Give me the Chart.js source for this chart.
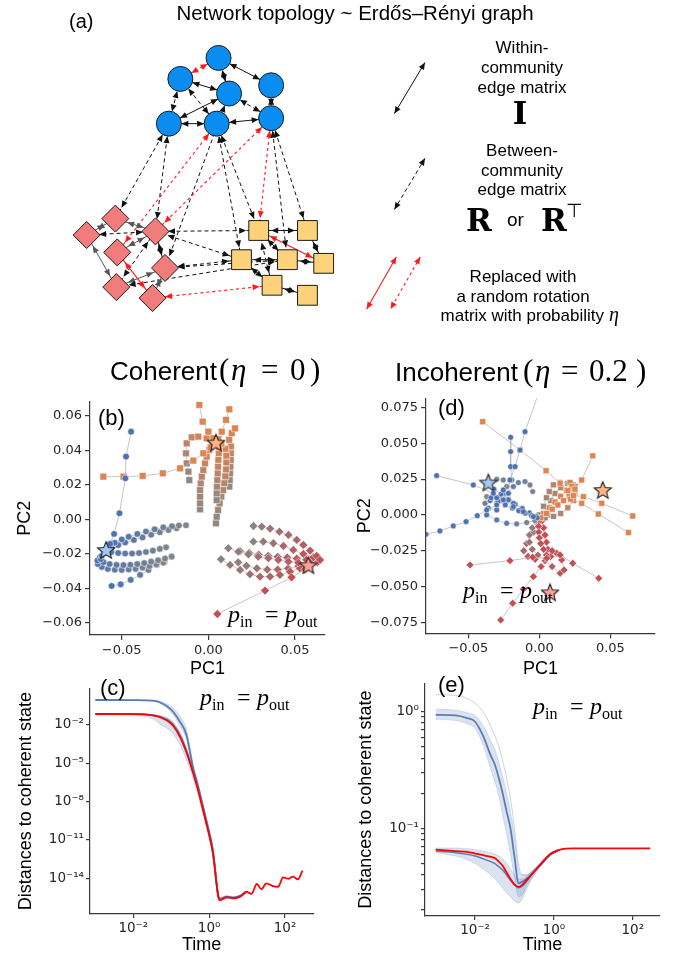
<!DOCTYPE html>
<html>
<head>
<meta charset="utf-8">
<script src="https://cdn.jsdelivr.net/npm/chart.js@4.4.0/dist/chart.umd.min.js"></script>
<style>
body{margin:0;background:#fff;width:677px;height:960px;position:relative;overflow:hidden}
canvas{position:absolute}
</style>
</head>
<body>
<canvas id="ca" width="677" height="345" style="left:0;top:0"></canvas>
<canvas id="cb" width="340" height="335" style="left:0;top:345px"></canvas>
<canvas id="cd" width="337" height="335" style="left:340px;top:345px"></canvas>
<canvas id="cc" width="340" height="285" style="left:0;top:675px"></canvas>
<canvas id="ce" width="337" height="285" style="left:340px;top:675px"></canvas>
<script>
// ---------- data: network (a) ----------
const blueNodes=[[213,47],[173,70],[268,77],[224,86],[161,119],[211,119],[268,113]];
const redNodes=[[105,223],[75,241],[147,237],[107,260],[157,277],[106,298],[144,310]];
const orangeNodes=[[255,236],[306,236],[237,268],[285,268],[323,272],[269,296],[306,307]];
// s solid black, d dashed black, rs red solid, rd red dashed, g grey solid
const edges=[
['b0','b1','rd'],['b0','b2','s'],['b0','b3','d'],['b1','b3','s'],['b1','b4','d'],['b1','b5','d'],['b3','b4','s'],['b3','b6','d'],['b2','b6','d'],['b4','b5','s'],['b5','b6','s'],
['b4','r0','d'],['b4','r2','d'],['b5','r3','rd'],['b6','r2','rd'],['b3','r4','d'],
['b5','o0','d'],['b5','o2','d'],['b6','o0','rd'],['b6','o1','d'],['b6','o3','d'],
['r0','r1','g'],['r0','r2','g'],['r2','r1','d'],['r1','r5','g'],['r2','r3','g'],['r2','r4','s'],['r3','r6','rs'],['r4','r5','g'],['r4','r6','g'],['r5','r2','d'],
['r2','o0','d'],['r2','o2','d'],['r4','o2','d'],['r4','o3','d'],['r6','o5','rd'],['r5','o3','d'],
['o0','o1','s'],['o0','o4','rs'],['o1','o4','s'],['o0','o3','s'],['o2','o3','s'],['o3','o4','s'],['o2','o5','s'],['o5','o6','s'],['o0','o5','d']
];
const legendArrows=[[[429,52],[397,108],'s'],[[429,157],[397,213],'d'],[[399,265],[368,322],'rs'],[[424,265],[393,322],'rd']];

// ---------- data: PCA trajectories (b) coherent ----------
const bBlueRays=[
[[-0.0446,0.0509],[-0.0475,0.0364],[-0.0479,0.0238],[-0.0513,0.0035],[-0.0544,-0.0085],[-0.0567,-0.0143]]
];
const bBlueArcs=[
[[-0.0129,-0.0035],[-0.017,-0.0036],[-0.021,-0.004],[-0.026,-0.0047],[-0.031,-0.0058],[-0.036,-0.0071],[-0.041,-0.0085],[-0.046,-0.0101],[-0.050,-0.0117],[-0.054,-0.0136],[-0.057,-0.0156]],
[[-0.0183,-0.0052],[-0.023,-0.0062],[-0.028,-0.0075],[-0.033,-0.009],[-0.038,-0.0105],[-0.043,-0.012],[-0.048,-0.0135],[-0.052,-0.015],[-0.056,-0.0165]],
[[-0.0244,-0.0163],[-0.028,-0.0172],[-0.032,-0.0182],[-0.036,-0.019],[-0.040,-0.0196],[-0.044,-0.0199],[-0.048,-0.0199],[-0.052,-0.0196],[-0.056,-0.019],[-0.0595,-0.0182]],
[[-0.0212,-0.0217],[-0.025,-0.0228],[-0.029,-0.0238],[-0.033,-0.0246],[-0.037,-0.0254],[-0.041,-0.026],[-0.045,-0.0264],[-0.049,-0.0266],[-0.053,-0.0265],[-0.057,-0.026],[-0.0605,-0.0249],[-0.062,-0.0232],[-0.0615,-0.0212],[-0.060,-0.0195]],
[[-0.026,-0.0252],[-0.030,-0.0262],[-0.034,-0.0272],[-0.038,-0.0281],[-0.042,-0.0288],[-0.046,-0.0292],[-0.050,-0.0294],[-0.054,-0.0293],[-0.058,-0.0288],[-0.0615,-0.0277],[-0.0638,-0.026],[-0.064,-0.024],[-0.0625,-0.022]],
[[-0.0212,-0.0217],[-0.0254,-0.0246],[-0.0298,-0.0265],[-0.0346,-0.0294],[-0.0394,-0.0323],[-0.0448,-0.0352],[-0.0506,-0.0378],[-0.0558,-0.0387]]
];
const bOrangeRays=[
[[-0.0606,0.0248],[-0.049,0.0248],[-0.0379,0.0252],[-0.0263,0.0267],[-0.0163,0.0296],[-0.0087,0.0341],[-0.0029,0.0383],[0.0013,0.0418]],
[[-0.0052,0.0664],[-0.0033,0.0567],[0,0.0509],[0.0029,0.047]],
[[0.0121,0.0639],[0.0102,0.0577],[0.0077,0.0509],[0.0058,0.0465]]
];
const bOrangeArcs=[
[[-0.011,0.0228],[-0.0115,0.0277],[-0.0125,0.0325],[-0.0129,0.0383],[-0.0125,0.0441],[-0.0096,0.0476],[-0.0058,0.048],[-0.001,0.047]],
[[-0.0048,0.0058],[-0.0048,0.0093],[-0.0048,0.0132],[-0.0048,0.017],[-0.0044,0.0209],[-0.0038,0.0248],[-0.0029,0.0286],[-0.0019,0.0325],[-0.001,0.0364],[0.0006,0.0403],[0.0025,0.0432]],
[[0.0048,0.0112],[0.0048,0.0151],[0.005,0.019],[0.0052,0.0228],[0.0054,0.0267],[0.0056,0.0306],[0.0058,0.0345],[0.006,0.0384],[0.006,0.042]],
[[0.0044,-0.0023],[0.0048,0.0015],[0.0056,0.0054],[0.0065,0.0093],[0.0075,0.0132],[0.0085,0.017],[0.0092,0.021],[0.0098,0.025],[0.0102,0.029],[0.0104,0.033],[0.0104,0.037],[0.0098,0.041],[0.0075,0.0438]],
[[0.0121,0.019],[0.0123,0.0228],[0.0125,0.0267],[0.0127,0.0306],[0.0129,0.0345],[0.013,0.0384],[0.013,0.0423],[0.012,0.0462],[0.0135,0.050],[0.0154,0.0528]]
];
const bRedRays=[
[[0.0052,-0.055],[0.0327,-0.0414],[0.048,-0.0337],[0.0558,-0.029]]
];
const bRedArcs=[
[[0.026,-0.0039],[0.0308,-0.0043],[0.0356,-0.0054],[0.041,-0.0072],[0.0462,-0.0091],[0.051,-0.012],[0.0548,-0.0149],[0.0587,-0.0182],[0.0625,-0.0213],[0.0644,-0.0236]],
[[0.026,-0.013],[0.0317,-0.013],[0.0375,-0.0139],[0.0433,-0.0155],[0.049,-0.0178],[0.0548,-0.0201],[0.0606,-0.0221],[0.0644,-0.0236]],
[[0.0115,-0.0168],[0.0173,-0.0188],[0.0231,-0.0203],[0.0288,-0.0217],[0.0346,-0.0226],[0.0404,-0.0236],[0.0462,-0.0246],[0.0519,-0.0252],[0.0587,-0.0252],[0.0635,-0.0244]],
[[0.0073,-0.0232],[0.0125,-0.0265],[0.0183,-0.0294],[0.024,-0.0319],[0.0298,-0.0333],[0.0356,-0.0333],[0.0413,-0.0323],[0.0471,-0.0304],[0.0529,-0.0285],[0.0577,-0.0265]],
[[0.0183,-0.0185],[0.0235,-0.0195],[0.029,-0.0205],[0.0345,-0.0212],[0.04,-0.0218],[0.0455,-0.0222],[0.051,-0.0228],[0.0565,-0.0235],[0.062,-0.0238]],
[[0.0172,-0.025],[0.022,-0.027],[0.028,-0.0285],[0.034,-0.0292],[0.04,-0.0292],[0.046,-0.0285],[0.052,-0.0272],[0.058,-0.026],[0.063,-0.025]]
];
const bStars=[[-0.059,-0.0178],[0.0044,0.0445],[0.0577,-0.0267]];

// ---------- data: PCA trajectories (d) incoherent ----------
const dBlueRays=[
[[-0.0723,0.0274],[-0.0465,0.0209],[-0.0324,0.0151],[-0.0254,0.0105],[-0.0183,0.0058],[-0.0113,0.0023],[-0.0042,-0.0012]],
[[-0.0798,-0.0135],[-0.07,-0.0112],[-0.0606,-0.0077],[-0.0516,-0.0047],[-0.0437,-0.0005],[-0.0371,0.0035],[-0.03,0.007],[-0.0218,0.0105]],
[[0.0005,0.088],[-0.0101,0.0581],[-0.0136,0.0453],[-0.0171,0.0337],[-0.0207,0.0244],[-0.0218,0.0151],[-0.0183,0.0081]],
[[-0.0202,0.0542],[-0.0202,0.0442],[-0.0202,0.0337],[-0.0195,0.0244],[-0.0254,0.0174],[-0.03,0.012]],
[[-0.034,0.012],[-0.029,0.0095],[-0.024,0.007],[-0.019,0.0048],[-0.0145,0.003],[-0.010,0.0012],[-0.0055,-0.0005],[-0.0015,-0.002]],
[[-0.032,0.018],[-0.027,0.0145],[-0.022,0.011],[-0.017,0.0075],[-0.012,0.0045],[-0.007,0.0015],[-0.002,-0.001]]
];
const dBlueArcs=[
[[-0.0047,0.0163],[-0.0066,0.0209],[-0.0101,0.0233],[-0.0148,0.0226],[-0.0183,0.0198],[-0.0218,0.0151],[-0.0254,0.0109],[-0.03,0.0081]],
[[-0.03,0.0249],[-0.0254,0.0244],[-0.023,0.0198],[-0.0242,0.0151],[-0.0289,0.0116],[-0.0347,0.01]],
[[-0.0031,-0.004],[-0.0089,-0.0053],[-0.016,-0.0063],[-0.023,-0.0058],[-0.03,-0.0035],[-0.0371,0]],
[[-0.0371,0.0128],[-0.0383,0.0081],[-0.0359,0.0047],[-0.03,0.0035]]
];
const dOrangeRays=[
[[-0.0399,0.0651],[-0.0136,0.0453],[0.0047,0.0309],[0.0146,0.0221],[0.02,0.017]],
[[0.0376,0.0412],[0.0298,0.0244],[0.025,0.018]],
[[0.0657,-0.0007],[0.0439,0.0081],[0.031,0.0128],[0.024,0.0135]],
[[0.0627,-0.0123],[0.0415,0.0007],[0.0298,0.0081],[0.022,0.011]],
[[0.025,0.016],[0.021,0.013],[0.017,0.010],[0.013,0.007],[0.009,0.004],[0.005,0.001],[0.001,-0.002]],
[[0.023,0.02],[0.019,0.017],[0.015,0.013],[0.011,0.009],[0.007,0.005],[0.003,0.001]]
];
const dOrangeArcs=[
[[0.0,0.0],[0.003,0.006],[0.005,0.012],[0.007,0.0163],[0.0099,0.021],[0.0146,0.0226],[0.0216,0.0226],[0.0251,0.0198],[0.024,0.016]],
[[0.004,-0.002],[0.006,0.004],[0.008,0.010],[0.011,0.015],[0.015,0.019],[0.020,0.022],[0.024,0.021],[0.025,0.017],[0.022,0.013]],
[[0.006,0.0],[0.01,-0.001],[0.015,0.001],[0.02,0.005],[0.024,0.01],[0.025,0.015]]
];
const dRedRays=[
[[-0.0488,-0.0349],[-0.0207,-0.0319],[-0.0047,-0.0295],[0.0052,-0.0302]],
[[-0.0272,-0.0733],[-0.0188,-0.0616],[-0.0113,-0.0519],[-0.0042,-0.043],[0.0012,-0.036],[0.0052,-0.0302]],
[[0.0418,-0.0442],[0.0235,-0.0337],[0.0146,-0.0279],[0.009,-0.025]],
[[0.0,-0.004],[-0.0005,-0.008],[-0.0005,-0.012],[0.0,-0.016],[0.001,-0.02],[0.003,-0.024],[0.005,-0.028]],
[[0.002,-0.004],[0.003,-0.009],[0.004,-0.014],[0.005,-0.019],[0.006,-0.024],[0.008,-0.029]]
];
const dRedArcs=[
[[-0.002,-0.004],[-0.005,-0.009],[-0.007,-0.014],[-0.007,-0.019],[-0.005,-0.024],[-0.001,-0.028],[0.004,-0.032],[0.009,-0.036],[0.0146,-0.0407],[0.0174,-0.0384],[0.0157,-0.0314],[0.0122,-0.0267]],
[[-0.001,-0.006],[-0.004,-0.012],[-0.009,-0.02],[-0.011,-0.025],[-0.008,-0.029],[-0.003,-0.031]]
];
const dStars=[[-0.0359,0.0226],[0.0446,0.0174],[0.0075,-0.054]];

const pcTicksX=[-0.05,0,0.05];
const bTicksY=[-0.06,-0.04,-0.02,0,0.02,0.04,0.06];
const dTicksY=[-0.075,-0.05,-0.025,0,0.025,0.05,0.075];

// ---------- data: distances (c) coherent ----------
const timeC=[0.001,0.01,0.032,0.05,0.1,0.17,0.25,0.38,0.5,0.69,1.0,1.26,1.74,1.9,2.9,4.3,6.5,9.5,13,18,24,32,48,66,89,120,162,219,288];
const redC=[0.072,0.071,0.056,0.04,0.0126,1.2e-3,7.9e-5,1.7e-6,1e-7,2.2e-9,2.5e-11,9e-13,3.7e-16,2.0e-16,3.3e-16,2.8e-16,3.7e-16,9e-16,6e-16,3.6e-15,1.4e-15,4.1e-15,2.5e-15,2.2e-15,1.2e-14,9.3e-15,1.35e-14,8.3e-15,4e-14];
const blueTopC=[0.9,0.88,0.8,0.6,0.16,0.018,1.8e-3,4e-6,2e-7,4e-9,4e-11,1.5e-12,4.5e-16,2.4e-16,3.6e-16,3e-16,4e-16,8e-16];
const bandTopHiC=[0.95,0.93,0.86,0.7,0.28,0.05,5e-3,9e-6,4.5e-7,8e-9,8e-11,3e-12,6e-16,3e-16,4.5e-16,3.8e-16,5e-16,1e-15];
const bandTopLoC=[0.85,0.83,0.72,0.5,0.1,8e-3,8e-4,2.2e-6,1.1e-7,2.3e-9,2.3e-11,1e-12,3e-16,1.9e-16,3e-16,2.5e-16,3.3e-16,7e-16];
const blueLowC=[0.075,0.074,0.06,0.045,0.016,1.6e-3,1e-4,2.2e-6,1.3e-7,2.8e-9,3e-11,1.1e-12,4e-16,2.2e-16,3.5e-16,3e-16,4e-16,8e-16];
const bandLowHiC=[0.078,0.077,0.068,0.055,0.025,3e-3,2e-4,4e-6,2.5e-7,5e-9,5e-11,2e-12,5e-16,2.8e-16,4.2e-16,3.6e-16,4.8e-16,1e-15];
const bandLowLoC=[0.066,0.06,0.03,0.012,3e-3,3e-4,2e-5,6e-7,4e-8,1e-9,1.2e-11,5e-13,2.5e-16,1.6e-16,2.6e-16,2.2e-16,3e-16,7e-16];
const cTicksX=[1e-2,1,1e2];
const cTicksY=[1e-14,1e-11,1e-8,1e-5,1e-2];

// ---------- data: distances (e) incoherent ----------
const timeE=[0.001,0.0032,0.0063,0.01,0.016,0.025,0.032,0.04,0.05,0.063,0.079,0.1,0.126,0.158,0.2,0.32,0.5,0.79,1.26,2.0,3.2,10,275];
const redE=[0.066,0.064,0.063,0.061,0.059,0.057,0.0555,0.052,0.048,0.042,0.037,0.033,0.0316,0.033,0.036,0.043,0.051,0.06,0.065,0.0673,0.0675,0.0675,0.0675];
const blueTopE=[0.94,0.93,0.88,0.82,0.62,0.42,0.35,0.27,0.2,0.14,0.1,0.057,0.034,0.035,0.037,0.043,0.051,0.06,0.065];
const bandTopHiE=[1.05,1.03,0.98,0.93,0.76,0.56,0.47,0.37,0.28,0.2,0.14,0.085,0.045,0.04,0.04,0.045,0.052,0.061,0.066];
const bandTopLoE=[0.86,0.84,0.79,0.72,0.52,0.32,0.25,0.19,0.13,0.09,0.06,0.038,0.026,0.027,0.032,0.041,0.05,0.059,0.064];
const faintTopE=[1.4,1.38,1.3,1.18,1.0,0.75,0.62,0.5,0.38,0.27,0.18,0.1,0.05,0.04,0.04,0.045,0.052,0.061,0.066];
const blueLowE=[0.064,0.062,0.06,0.058,0.055,0.052,0.05,0.047,0.044,0.04,0.036,0.033,0.031,0.032,0.035,0.043,0.05,0.059,0.065];
const bandLowHiE=[0.068,0.068,0.067,0.066,0.064,0.062,0.06,0.058,0.055,0.05,0.045,0.04,0.037,0.037,0.039,0.045,0.052,0.061,0.066];
const bandLowLoE=[0.062,0.058,0.054,0.05,0.045,0.04,0.037,0.034,0.031,0.028,0.026,0.024,0.023,0.025,0.03,0.04,0.049,0.058,0.064];
const eTicksX=[1e-2,1,1e2];
const eTicksY=[0.1,1];
const eMinorY=[0.02,0.03,0.04,0.05,0.06,0.07,0.08,0.09,0.2,0.3,0.4,0.5,0.6,0.7,0.8,0.9];

// ---------- helpers ----------
const SANS='"Liberation Sans", Arial, sans-serif';
const SERIF='"Liberation Serif", "DejaVu Serif", serif';
const DJ='"DejaVu Sans", sans-serif';
const AX='#3a3a3a';
const COL={blue:[76,114,176],orange:[221,132,82],red:[196,78,82]};
Chart.defaults.animation=false;
Chart.defaults.devicePixelRatio=1;
Chart.defaults.plugins.legend.display=false;
Chart.defaults.plugins.tooltip.enabled=false;

function T(ctx,t,f,x,y,a){ctx.font=f;ctx.fillStyle='#000';ctx.textAlign=a||'left';ctx.textBaseline='alphabetic';ctx.fillText(t,x,y);}
function textPlugin(items){return {id:'txt',afterDraw(chart){const c=chart.ctx;c.save();items.forEach(i=>T(c,...i));c.restore();}};}
function pEq(x,y){
  const it='italic 24px '+SERIF, sub='16px '+SERIF, up='24px '+SERIF;
  return [['p',it,x,y],['in',sub,x+12,y+5],['=',up,x+37,y],['p',it,x+57,y],['out',sub,x+69,y+5]];
}
function mix(c,w){const g=[135,135,135];return 'rgb('+c.map((v,k)=>Math.round(g[k]+(v-g[k])*w)).join(',')+')';}
function fmt(v,d){return (v<-1e-9?'\u2212':'')+Math.abs(v).toFixed(d);}
const SUP={'-':'\u207B','0':'\u2070','1':'\u00B9','2':'\u00B2','3':'\u00B3','4':'\u2074','5':'\u2075','6':'\u2076','7':'\u2077','8':'\u2078','9':'\u2079'};
function pow10(v){const e=Math.round(Math.log10(v));return '10'+String(e).split('').map(ch=>SUP[ch]).join('');}
function starImg(fill,R){
  const c=document.createElement('canvas');const s=Math.ceil(R*2+4);c.width=c.height=s;
  const g=c.getContext('2d');const cx=s/2,cy=s/2+0.8;g.beginPath();
  for(let k=0;k<10;k++){const r=k%2?R*0.45:R;const a=-Math.PI/2+k*Math.PI/5;g.lineTo(cx+r*Math.cos(a),cy+r*Math.sin(a));}
  g.closePath();g.fillStyle=fill;g.fill();g.strokeStyle='#222';g.lineWidth=1.1;g.stroke();return c;
}
function trajSets(list,col,style,r,arc){
  return list.map(tr=>({type:'line',data:tr.map(p=>({x:p[0],y:p[1]})),showLine:true,borderColor:'rgba(175,175,175,0.9)',borderWidth:0.8,tension:0,
    pointStyle:style,pointRadius:r,pointBorderColor:'rgba(255,255,255,0.85)',pointBorderWidth:0.6,
    pointBackgroundColor:tr.map((p,i)=>mix(col,arc?0.1+0.9*i/(tr.length-1):1)),order:2}));
}
function starSets(stars,r){
  const fills=['#a1c9f4','#ffb482','#ff9f9b'];
  return stars.map((s,i)=>({type:'scatter',data:[{x:s[0],y:s[1]}],pointStyle:starImg(fills[i],r),pointRadius:r,order:0}));
}
function fixTicks(arr,minor){return s=>{s.ticks=arr.concat(minor||[]).map(v=>({value:v}));};}
function linAxis(min,max,ticks,d,title,fit,titlePad){
  return {type:'linear',min,max,afterBuildTicks:fixTicks(ticks),
    ticks:{callback:v=>fmt(v,d),font:{family:DJ,size:13},color:'#262626',padding:3,maxRotation:0,autoSkip:false},
    grid:{display:true,drawOnChartArea:false,tickLength:5,color:AX,lineWidth:1.2},
    border:{color:AX,width:1.2},
    title:{display:true,text:title,font:{family:SANS,size:18},color:'#000',padding:titlePad},
    afterFit:fit};
}
function logAxis(min,max,ticks,minor,title,fit,titlePad){
  return {type:'logarithmic',min,max,afterBuildTicks:fixTicks(ticks,minor),
    ticks:{callback:v=>ticks.some(t=>Math.abs(t-v)/t<1e-6)?pow10(v):'',font:{family:DJ,size:13.5},color:'#262626',padding:2,maxRotation:0,autoSkip:false},
    grid:{display:true,drawOnChartArea:false,tickLength:4,color:AX,lineWidth:1.2},
    border:{color:AX,width:1.2},
    title:{display:true,text:title,font:{family:SANS,size:18},color:'#000',padding:titlePad},
    afterFit:fit};
}
const fitW=w=>s=>{s.width=w;s.paddingTop=0;s.paddingBottom=0;};
const fitH=h=>s=>{s.height=h;s.paddingLeft=0;s.paddingRight=0;};
function series(t,v){return v.map((y,i)=>({x:t[i],y}));}

// ---------- (a) network ----------
const nodeMap={};
blueNodes.forEach((p,i)=>nodeMap['b'+i]=p);
redNodes.forEach((p,i)=>nodeMap['r'+i]=p);
orangeNodes.forEach((p,i)=>nodeMap['o'+i]=p);
const edgeStyle={s:['#111',[],1],d:['#111',[4,3],1],rs:['#ff1a1a',[],1.1],rd:['#ff1a1a',[3,3],1.1],g:['#555',[],1]};
const aSets=[];
edges.forEach(e=>{
  const st=edgeStyle[e[2]];
  aSets.push({type:'line',data:[e[0],e[1]].map(k=>({x:nodeMap[k][0],y:nodeMap[k][1]})),borderColor:st[0],borderDash:st[1],borderWidth:st[2],pointRadius:0,order:1,gap:12.5});
});
legendArrows.forEach(a=>{
  const st=edgeStyle[a[2]];
  aSets.push({type:'line',data:[a[0],a[1]].map(p=>({x:p[0],y:p[1]})),borderColor:st[0],borderDash:st[1],borderWidth:st[2],pointRadius:0,order:1,gap:0});
});
aSets.push({type:'scatter',data:blueNodes.map(p=>({x:p[0],y:p[1]})),pointStyle:'circle',pointRadius:12.5,backgroundColor:'#0a8df0',borderColor:'#1a1a1a',borderWidth:1,order:0});
aSets.push({type:'scatter',data:redNodes.map(p=>({x:p[0],y:p[1]})),pointStyle:'rectRot',pointRadius:13.5,backgroundColor:'#f27b7b',borderColor:'#1a1a1a',borderWidth:1,order:0});
aSets.push({type:'scatter',data:orangeNodes.map(p=>({x:p[0],y:p[1]})),pointStyle:'rect',pointRadius:14,backgroundColor:'#fdd27a',borderColor:'#1a1a1a',borderWidth:1,order:0});

const arrowPlugin={id:'arrowHeads',afterDatasetsDraw(chart){
  const ctx=chart.ctx;
  chart.data.datasets.forEach((ds,i)=>{
    if(ds.gap===undefined)return;
    const pts=chart.getDatasetMeta(i).data;
    [[pts[0],pts[1]],[pts[1],pts[0]]].forEach(([p,q])=>{
      const dx=p.x-q.x,dy=p.y-q.y,L=Math.hypot(dx,dy),ux=dx/L,uy=dy/L;
      const tx=p.x-ux*ds.gap,ty=p.y-uy*ds.gap,len=7,hw=3;
      ctx.save();ctx.fillStyle=ds.borderColor;ctx.beginPath();ctx.moveTo(tx,ty);
      ctx.lineTo(tx-ux*len-uy*hw,ty-uy*len+ux*hw);ctx.lineTo(tx-ux*len+uy*hw,ty-uy*len-ux*hw);
      ctx.closePath();ctx.fill();ctx.restore();
    });
  });
}};

const L17='17px '+SANS;
new Chart(document.getElementById('ca'),{
  type:'scatter',
  data:{datasets:aSets},
  options:{responsive:false,layout:{padding:0},
    scales:{x:{type:'linear',display:false,min:0,max:677},y:{type:'linear',display:false,min:0,max:345,reverse:true}}},
  plugins:[arrowPlugin,textPlugin([
    ['(a)','20px '+SANS,69,28],
    ['Network topology ~ Erd\u0151s\u2013R\u00e9nyi graph','20.5px '+SANS,355,20,'center'],
    ['Within-',L17,522,53,'center'],['community',L17,522,73,'center'],['edge matrix',L17,522,93,'center'],
    ['I','bold 31px "DejaVu Serif"',520,124,'center'],
    ['Between-',L17,522,156,'center'],['community',L17,522,176,'center'],['edge matrix',L17,522,195,'center'],
    ['R','bold 31px "DejaVu Serif"',466,231],['or','19px '+SANS,507,226],['R','bold 31px "DejaVu Serif"',541,231],['\u22A4','19px '+DJ,566,217],
    ['Replaced with',L17,523,282,'center'],['a random rotation',L17,523,302,'center'],
    ['matrix with probability',L17,604,321,'right'],['\u03B7','italic 20px '+SERIF,609,321]
  ])]
});

// ---------- (b) ----------
const bSets=[].concat(
  trajSets(bBlueRays,COL.blue,'circle',3.3,false),trajSets(bBlueArcs,COL.blue,'circle',3.3,true),
  trajSets(bOrangeRays,COL.orange,'rect',4.8,false),trajSets(bOrangeArcs,COL.orange,'rect',4.8,true),
  trajSets(bRedRays,COL.red,'rectRot',4.4,false),trajSets(bRedArcs,COL.red,'rectRot',4.4,true),
  starSets(bStars,9));
const M='31px '+SERIF, MI='italic 31px '+SERIF;
new Chart(document.getElementById('cb'),{
  type:'scatter',data:{datasets:bSets},
  options:{responsive:false,layout:{padding:{left:0,right:15,top:56.7,bottom:0}},
    scales:{x:linAxis(-0.0683,0.0673,pcTicksX,2,'PC1',fitH(45),{top:0,bottom:0}),
            y:linAxis(-0.0672,0.0683,bTicksY,2,'PC2',fitW(90),{top:14,bottom:0})}},
  plugins:[textPlugin([
    ['Coherent','26px '+SANS,110,35],['(',M,219,35],['\u03B7',MI,231,35],['=',M,261,35],['0',M,290,35],[')',M,310,35],
    ['(b)','22px '+SANS,98,80]
  ].concat(pEq(228,277)))]
});

// ---------- (d) ----------
const dSets=[].concat(
  trajSets(dBlueRays,COL.blue,'circle',2.9,false),trajSets(dBlueArcs,COL.blue,'circle',2.9,true),
  trajSets(dOrangeRays,COL.orange,'rect',4.2,false),trajSets(dOrangeArcs,COL.orange,'rect',4.2,true),
  trajSets(dRedRays,COL.red,'rectRot',3.9,false),trajSets(dRedArcs,COL.red,'rectRot',3.9,true),
  starSets(dStars,9));
new Chart(document.getElementById('cd'),{
  type:'scatter',data:{datasets:dSets},
  options:{responsive:false,layout:{padding:{left:0,right:22,top:53.3,bottom:0}},
    scales:{x:linAxis(-0.0798,0.0814,pcTicksX,2,'PC1',fitH(46.7),{top:0,bottom:0}),
            y:linAxis(-0.0826,0.0814,dTicksY,3,'PC2',fitW(86),{top:14,bottom:0})}},
  plugins:[textPlugin([
    ['Incoherent','26px '+SANS,55,36],['(',M,183,36],['\u03B7',MI,195,36],['=',M,221,36],['0.2',M,249,36],[')',M,296,36],
    ['(d)','22px '+SANS,98,70]
  ].concat(pEq(123,253)))]
});

// ---------- (c) ----------
const BL='rgba(76,114,176,0.9)',BAND='rgba(76,114,176,0.2)';
function lineSet(t,v,color,w,order,fill){return {type:'line',data:series(t,v),borderColor:color,borderWidth:w,pointRadius:0,cubicInterpolationMode:'monotone',order,fill:fill||false,backgroundColor:BAND};}
new Chart(document.getElementById('cc'),{
  type:'line',
  data:{datasets:[
    lineSet(timeC,bandTopHiC,'rgba(76,114,176,0.2)',1,3,'+1'),lineSet(timeC,bandTopLoC,'rgba(76,114,176,0.2)',1,3),
    lineSet(timeC,bandLowHiC,'rgba(76,114,176,0.2)',1,3,'+1'),lineSet(timeC,bandLowLoC,'rgba(76,114,176,0.2)',1,3),
    lineSet(timeC,blueTopC,BL,1.8,1),lineSet(timeC,blueLowC,BL,1.8,1),
    lineSet(timeC,redC,'#ff0000',1.8,0)
  ]},
  options:{responsive:false,layout:{padding:{left:0,right:26.7,top:13.3,bottom:0}},
    scales:{x:logAxis(7.24e-4,556,cTicksX,[],'Time',fitH(46),{top:0,bottom:4}),
            y:logAxis(1.62e-17,7.4,cTicksY,[],'Distances to coherent state',fitW(90),{top:15,bottom:0})}},
  plugins:[textPlugin([['(c)','22px '+SANS,100,20]].concat(pEq(200,30)))]
});

// ---------- (e) ----------
new Chart(document.getElementById('ce'),{
  type:'line',
  data:{datasets:[
    lineSet(timeE,bandTopHiE,'rgba(76,114,176,0.2)',1,3,'+1'),lineSet(timeE,bandTopLoE,'rgba(76,114,176,0.2)',1,3),
    lineSet(timeE,bandLowHiE,'rgba(76,114,176,0.2)',1,3,'+1'),lineSet(timeE,bandLowLoE,'rgba(76,114,176,0.2)',1,3),
    lineSet(timeE,faintTopE,'rgba(76,114,176,0.3)',1,2),
    lineSet(timeE,blueTopE,BL,1.8,1),lineSet(timeE,blueLowE,BL,1.5,1),
    lineSet(timeE,redE,'#ff0000',1.8,0)
  ]},
  options:{responsive:false,layout:{padding:{left:0,right:17,top:8.3,bottom:0}},
    scales:{x:logAxis(5.37e-4,490,eTicksX,[],'Time',fitH(44),{top:0,bottom:4}),
            y:logAxis(0.0178,1.75,eTicksY,eMinorY,'Distances to coherent state',fitW(85),{top:15,bottom:0})}},
  plugins:[textPlugin([['(e)','22px '+SANS,98,17]].concat(pEq(193,39)))]
});
</script>
</body>
</html>
